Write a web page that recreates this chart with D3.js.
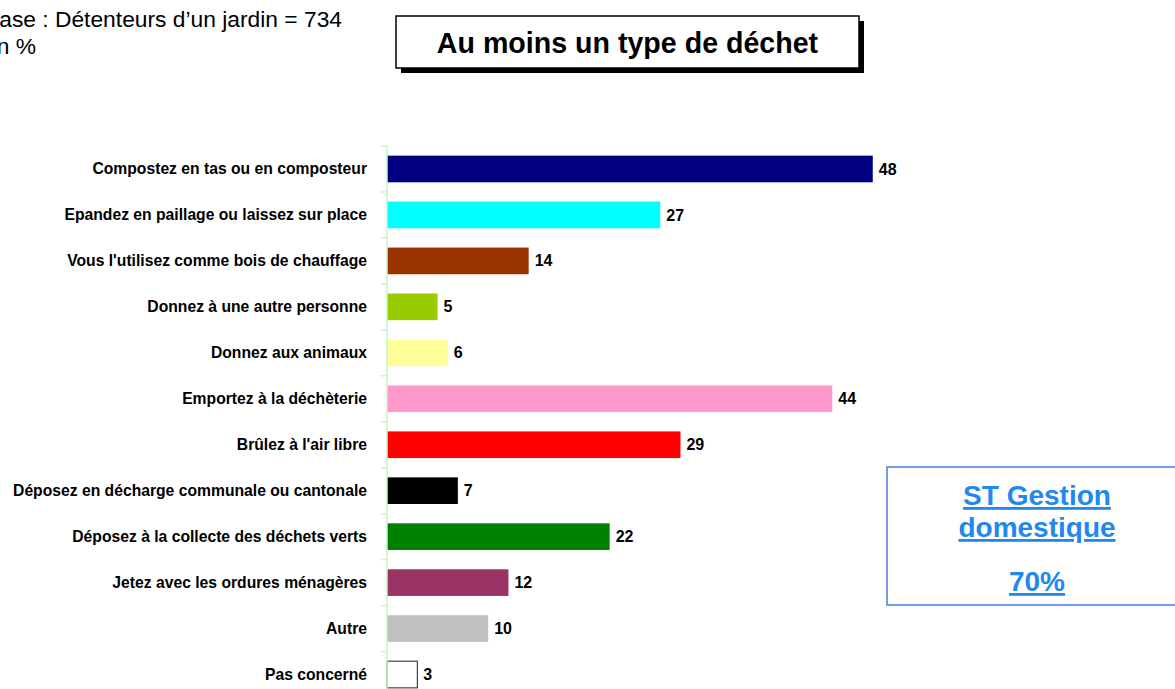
<!DOCTYPE html>
<html>
<head>
<meta charset="utf-8">
<script src="https://cdn.jsdelivr.net/npm/d3@7"></script>
<style>
  html, body { margin: 0; padding: 0; background: #fff; overflow: hidden; }
  svg text { font-family: "Liberation Sans", Arial, sans-serif; }
</style>
</head>
<body>
<div id="chartHolder"></div>
<script>
// data (in %)
const categories = [
  "Compostez en tas ou en composteur",
  "Epandez en paillage ou laissez sur place",
  "Vous l'utilisez comme bois de chauffage",
  "Donnez à une autre personne",
  "Donnez aux animaux",
  "Emportez à la déchèterie",
  "Brûlez à l'air libre",
  "Déposez en décharge communale ou cantonale",
  "Déposez à la collecte des déchets verts",
  "Jetez avec les ordures ménagères",
  "Autre",
  "Pas concerné"
];
const values = [48, 27, 14, 5, 6, 44, 29, 7, 22, 12, 10, 3];
const barColors = ["#000080", "#00FFFF", "#993300", "#99CC00", "#FFFF99", "#FF99CC",
  "#FF0000", "#000000", "#008000", "#993366", "#C0C0C0", "#FFFFFF"];

const titleText = "Au moins un type de déchet";
const baseLines = ["Base : Détenteurs d’un jardin = 734", "en %"];
const boxLines = ["ST Gestion", "domestique", "70%"];

const data = categories.map((c, i) => ({ cat: c, val: values[i], color: barColors[i] }));

const width = 1175, height = 689;

const svg = d3.select("#chartHolder")
  .append("svg")
  .attr("width", width)
  .attr("height", height);

// scales
const x = d3.scaleLinear().domain([0, 50]).range([387, 893]);
const y = d3.scaleBand()
  .domain(categories)
  .range([146, 697.5])
  .paddingInner(0.42)
  .paddingOuter(0.21);

// header text (cut at the left edge like the original)
svg.append("g")
  .selectAll("text")
  .data(baseLines)
  .enter()
  .append("text")
  .attr("x", -16)
  .attr("y", (d, i) => 27 + i * 27)
  .attr("font-size", "22.8px")
  .attr("fill", "#000")
  .text(d => d);

// title box with shadow
svg.append("rect")
  .attr("x", 401).attr("y", 21)
  .attr("width", 463).attr("height", 52)
  .attr("fill", "#000");
svg.append("rect")
  .attr("x", 396).attr("y", 16)
  .attr("width", 463).attr("height", 52)
  .attr("fill", "#fff")
  .attr("stroke", "#000")
  .attr("stroke-width", 1.5);
svg.append("text")
  .attr("x", 627.5).attr("y", 53)
  .attr("text-anchor", "middle")
  .attr("font-size", "28.6px")
  .attr("font-weight", "bold")
  .text(titleText);

// bars
svg.append("g")
  .selectAll("rect")
  .data(data)
  .enter()
  .append("rect")
  .attr("x", x(0))
  .attr("y", d => y(d.cat))
  .attr("width", d => x(d.val) - x(0))
  .attr("height", y.bandwidth())
  .attr("fill", d => d.color)
  .attr("stroke", d => d.color === "#FFFFFF" ? "#444" : "none")
  .attr("stroke-width", 1.2);

// value labels
svg.append("g")
  .selectAll("text")
  .data(data)
  .enter()
  .append("text")
  .attr("x", d => x(d.val) + 6)
  .attr("y", d => y(d.cat) + y.bandwidth() / 2)
  .attr("dy", "0.35em")
  .attr("font-size", "16px")
  .attr("font-weight", "bold")
  .text(d => d3.format("d")(d.val));

// category axis: light green line with ticks between categories
const step = y.step();
const boundaries = categories.map(c => y(c) - (step - y.bandwidth()) / 2);
const axisG = svg.append("g");
axisG.append("line")
  .attr("x1", x(0)).attr("x2", x(0))
  .attr("y1", boundaries[0]).attr("y2", height)
  .attr("stroke", "#c8f5c8")
  .attr("stroke-width", 1.5);
axisG.selectAll(".tk")
  .data(boundaries)
  .enter()
  .append("line")
  .attr("class", "tk")
  .attr("x1", x(0) - 6).attr("x2", x(0))
  .attr("y1", d => d).attr("y2", d => d)
  .attr("stroke", "#c8f5c8")
  .attr("stroke-width", 1.5);

svg.append("g")
  .attr("transform", `translate(${x(0)},0)`)
  .call(d3.axisLeft(y).tickSize(0).tickPadding(20))
  .call(g => g.select(".domain").remove())
  .selectAll("text")
  .attr("fill", "#000")
  .attr("font-size", "15.7px")
  .attr("font-weight", "bold")
  .style("font-family", "'Liberation Sans', Arial, sans-serif");

// right side note box
svg.append("rect")
  .attr("x", 887).attr("y", 467)
  .attr("width", 300).attr("height", 138)
  .attr("fill", "#fff")
  .attr("stroke", "#4a7ee8")
  .attr("stroke-width", 1.5);
svg.append("g")
  .selectAll("text")
  .data(boxLines)
  .enter()
  .append("text")
  .attr("x", 1037)
  .attr("y", (d, i) => [505, 537, 591][i])
  .attr("text-anchor", "middle")
  .attr("font-size", "28px")
  .attr("font-weight", "bold")
  .attr("fill", "#2288ee")
  .attr("text-decoration", "underline")
  .text(d => d);
</script>
</body>
</html>
